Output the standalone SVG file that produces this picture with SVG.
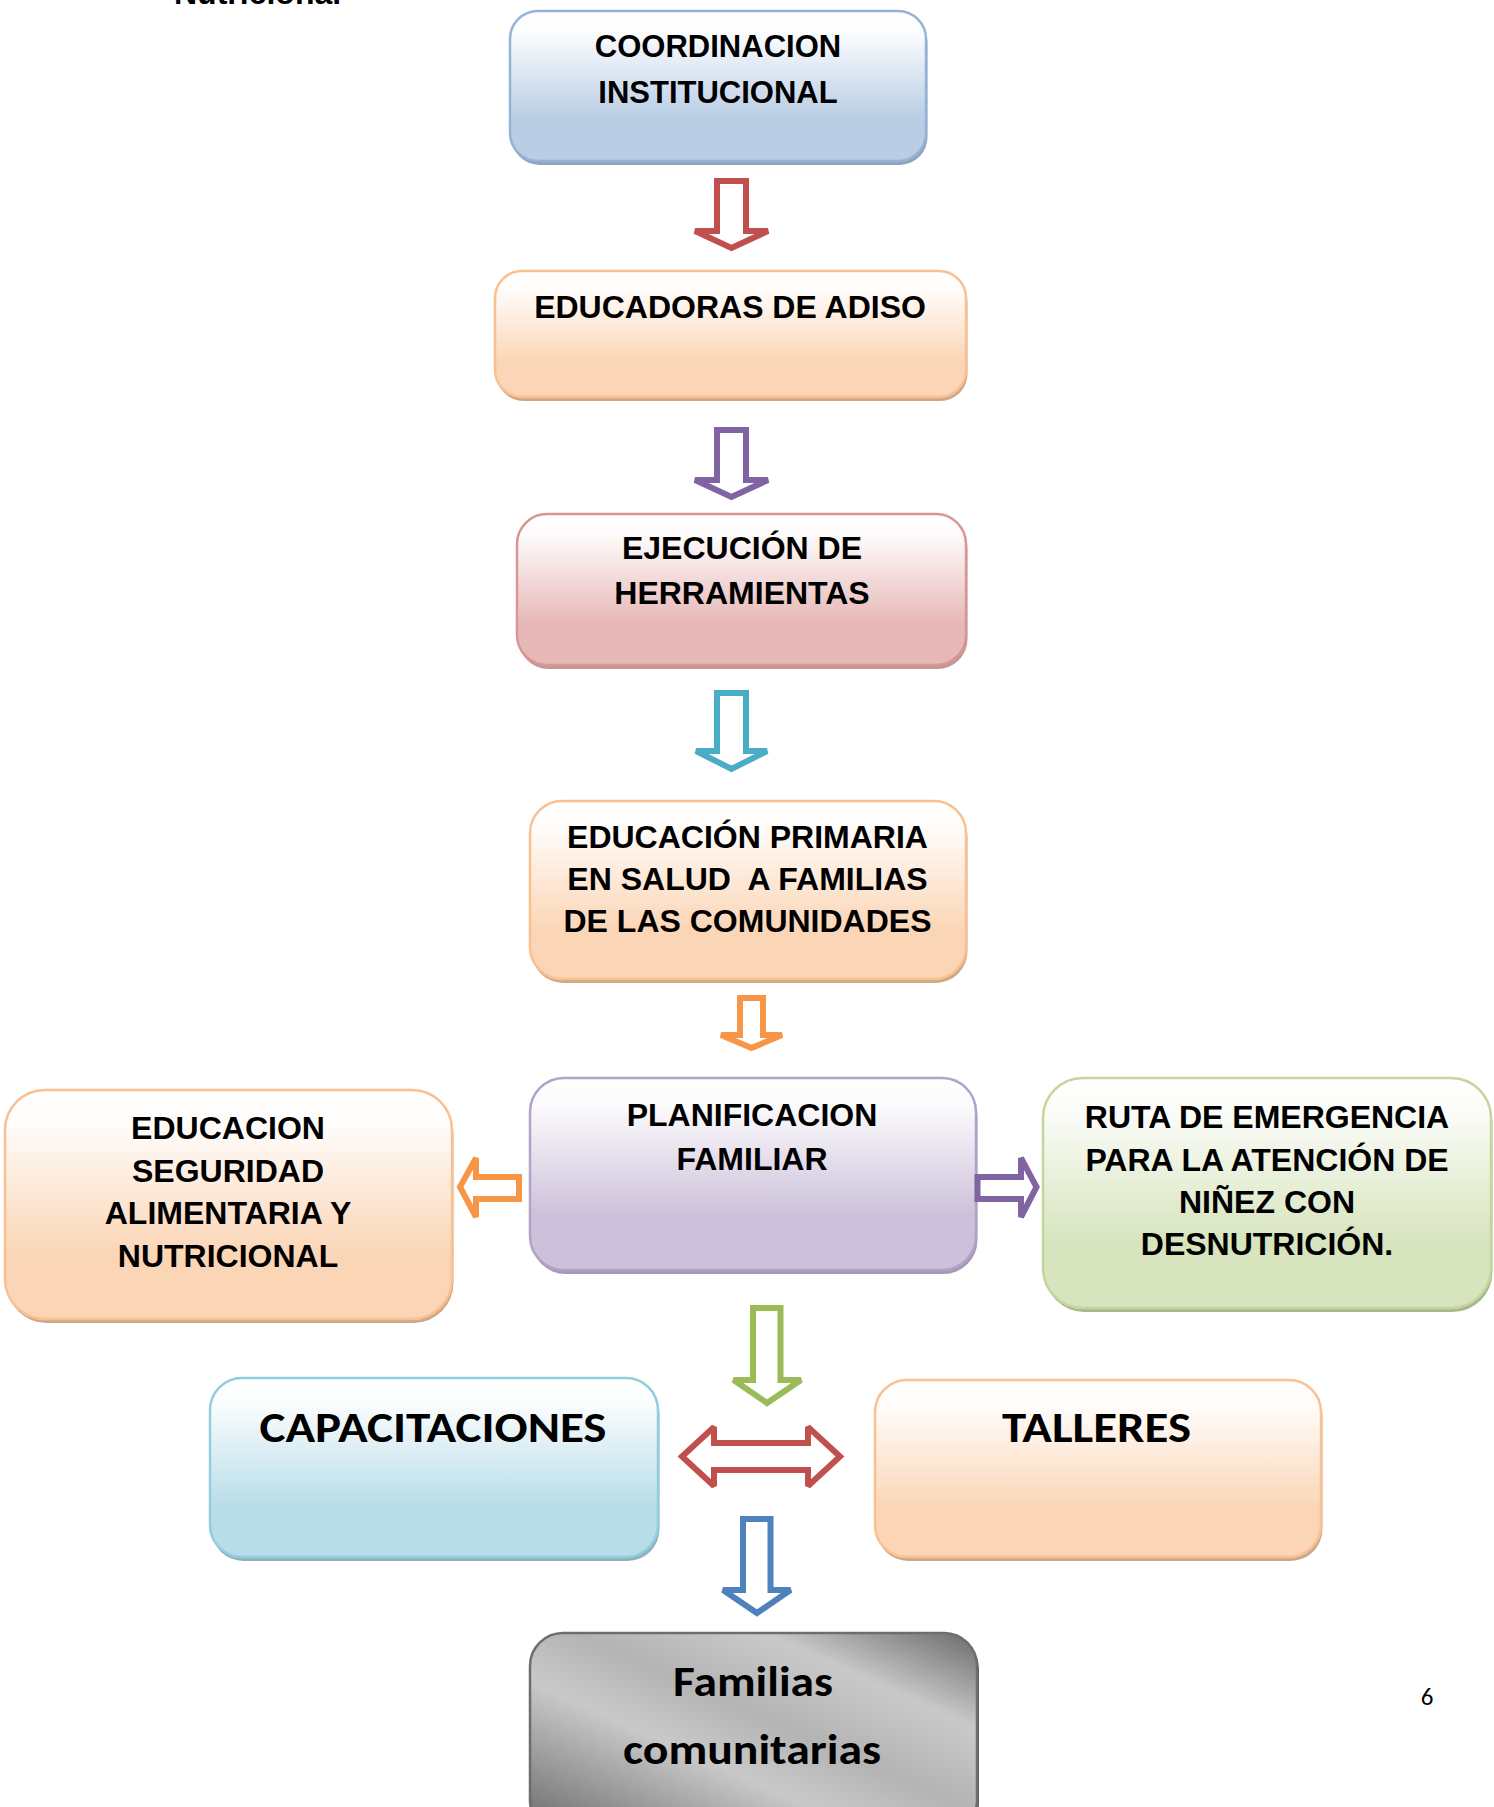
<svg xmlns="http://www.w3.org/2000/svg" width="1494" height="1807" viewBox="0 0 1494 1807">
<defs>
<linearGradient id="gBlue" x1="0" y1="0" x2="0" y2="1"><stop offset="0" stop-color="#ffffff"/><stop offset="0.15" stop-color="#fbfcfe"/><stop offset="0.72" stop-color="#b9cde5"/><stop offset="1" stop-color="#b9cde5"/></linearGradient>
<linearGradient id="gOrange" x1="0" y1="0" x2="0" y2="1"><stop offset="0" stop-color="#ffffff"/><stop offset="0.15" stop-color="#fffcfa"/><stop offset="0.72" stop-color="#fbd6b6"/><stop offset="1" stop-color="#fbd5b5"/></linearGradient>
<linearGradient id="gRed" x1="0" y1="0" x2="0" y2="1"><stop offset="0" stop-color="#ffffff"/><stop offset="0.15" stop-color="#fdfafa"/><stop offset="0.72" stop-color="#e6b9b8"/><stop offset="1" stop-color="#e6b9b8"/></linearGradient>
<linearGradient id="gPurple" x1="0" y1="0" x2="0" y2="1"><stop offset="0" stop-color="#ffffff"/><stop offset="0.15" stop-color="#fbfafc"/><stop offset="0.72" stop-color="#ccc0da"/><stop offset="1" stop-color="#ccc0da"/></linearGradient>
<linearGradient id="gGreen" x1="0" y1="0" x2="0" y2="1"><stop offset="0" stop-color="#ffffff"/><stop offset="0.15" stop-color="#fbfcf8"/><stop offset="0.72" stop-color="#d7e4bd"/><stop offset="1" stop-color="#d7e4bd"/></linearGradient>
<linearGradient id="gCyan" x1="0" y1="0" x2="0" y2="1"><stop offset="0" stop-color="#ffffff"/><stop offset="0.15" stop-color="#fafcfd"/><stop offset="0.72" stop-color="#b7dde8"/><stop offset="1" stop-color="#b7dde8"/></linearGradient>
<linearGradient id="gGray" x1="1" y1="0" x2="0" y2="1"><stop offset="0" stop-color="#6a6a6a"/><stop offset="0.24" stop-color="#c9c9c9"/><stop offset="0.45" stop-color="#b4b4b4"/><stop offset="0.62" stop-color="#c9c9c9"/><stop offset="1" stop-color="#696969"/></linearGradient>
<style>
.t{font-family:"Liberation Sans",Arial,sans-serif;font-weight:bold;font-size:32px;text-anchor:middle;fill:#000}
.c{font-family:Carlito,Lato,"Open Sans",sans-serif;font-weight:bold;font-size:43px;text-anchor:middle;fill:#000}
.box{stroke-width:2.5}
.arr{fill:#ffffff;stroke-width:6;stroke-linejoin:miter;stroke-miterlimit:2}
</style>
</defs>
<rect width="1494" height="1807" fill="#ffffff"/>
<text class="t" x="174" y="4" style="text-anchor:start">Nutricional</text>

<g id="coordinacion">
<rect x="511.5" y="15" width="416" height="150" rx="28" fill="#8fa3be"/>
<rect class="box" x="510" y="11" width="416" height="150" rx="28" fill="url(#gBlue)" stroke="#95b3d7"/>
<text class="t" x="718" y="57" style="font-size:31px">COORDINACION</text>
<text class="t" x="718" y="103" style="font-size:31px">INSTITUCIONAL</text>
</g>

<g id="educadoras">
<rect x="496.5" y="275" width="471" height="126" rx="27" fill="#cda889"/>
<rect class="box" x="495" y="271" width="471" height="126" rx="27" fill="url(#gOrange)" stroke="#fac090"/>
<text class="t" x="730" y="318">EDUCADORAS DE ADISO</text>
</g>

<g id="ejecucion">
<rect x="518.5" y="518" width="449" height="151" rx="30" fill="#c49695"/>
<rect class="box" x="517" y="514" width="449" height="151" rx="30" fill="url(#gRed)" stroke="#d99694"/>
<text class="t" x="742" y="559">EJECUCIÓN DE</text>
<text class="t" x="742" y="604">HERRAMIENTAS</text>
</g>

<g id="educacion-primaria">
<rect x="531.5" y="805" width="436" height="178" rx="32" fill="#cda889"/>
<rect class="box" x="530" y="801" width="436" height="178" rx="32" fill="url(#gOrange)" stroke="#fac090"/>
<text class="t" x="747.5" y="848">EDUCACIÓN PRIMARIA</text>
<text class="t" x="747.5" y="890">EN SALUD&#160; A FAMILIAS</text>
<text class="t" x="747.5" y="932">DE LAS COMUNIDADES</text>
</g>

<g id="educacion-seguridad">
<rect x="6.5" y="1094" width="447" height="229" rx="40" fill="#cda889"/>
<rect class="box" x="5" y="1090" width="447" height="229" rx="40" fill="url(#gOrange)" stroke="#fac090"/>
<text class="t" x="228" y="1139">EDUCACION</text>
<text class="t" x="228" y="1182">SEGURIDAD</text>
<text class="t" x="228" y="1224">ALIMENTARIA Y</text>
<text class="t" x="228" y="1267">NUTRICIONAL</text>
</g>

<g id="planificacion">
<rect x="531.5" y="1082" width="446" height="192" rx="34" fill="#a699b2"/>
<rect class="box" x="530" y="1078" width="446" height="192" rx="34" fill="url(#gPurple)" stroke="#b3a2c7"/>
<text class="t" x="752" y="1126">PLANIFICACION</text>
<text class="t" x="752" y="1170">FAMILIAR</text>
</g>

<g id="ruta">
<rect x="1044.5" y="1082" width="448" height="230" rx="40" fill="#a9b690"/>
<rect class="box" x="1043" y="1078" width="448" height="230" rx="40" fill="url(#gGreen)" stroke="#c3d69b"/>
<text class="t" x="1267" y="1128">RUTA DE EMERGENCIA</text>
<text class="t" x="1267" y="1170.5">PARA LA ATENCIÓN DE</text>
<text class="t" x="1267" y="1213">NIÑEZ CON</text>
<text class="t" x="1267" y="1255">DESNUTRICIÓN.</text>
</g>

<g id="capacitaciones">
<rect x="211.5" y="1382" width="448" height="179" rx="32" fill="#8fb2bc"/>
<rect class="box" x="210" y="1378" width="448" height="179" rx="32" fill="url(#gCyan)" stroke="#93cddd"/>
<text class="c" x="433" y="1442" textLength="347" lengthAdjust="spacingAndGlyphs">CAPACITACIONES</text>
</g>

<g id="talleres">
<rect x="876.5" y="1384" width="446" height="177" rx="32" fill="#cda889"/>
<rect class="box" x="875" y="1380" width="446" height="177" rx="32" fill="url(#gOrange)" stroke="#fac090"/>
<text class="c" x="1096.5" y="1442" textLength="189" lengthAdjust="spacingAndGlyphs">TALLERES</text>
</g>

<g id="familias">
<rect x="532" y="1636" width="447" height="200" rx="33" fill="#5e5e5e"/>
<rect class="box" x="530" y="1633" width="447" height="200" rx="33" fill="url(#gGray)" stroke="#6d6d6d"/>
<text class="c" x="753" y="1696" textLength="160" lengthAdjust="spacingAndGlyphs">Familias</text>
<text class="c" x="752" y="1764" textLength="258" lengthAdjust="spacingAndGlyphs">comunitarias</text>
</g>

<g id="connectors">
<path class="arr" stroke="#c0504d" d="M717,181 L746,181 L746,231 L768,231 L731.5,248 L695,231 L717,231 Z"/>
<path class="arr" stroke="#8064a2" d="M717,430 L746,430 L746,480 L768,480 L731.5,497 L695,480 L717,480 Z"/>
<path class="arr" stroke="#4bacc6" d="M717,693 L746,693 L746,751 L767,751 L731.5,769 L696,751 L717,751 Z"/>
<path class="arr" stroke="#f79646" d="M740,998 L763,998 L763,1035 L782,1035 L751.5,1048 L721,1035 L740,1035 Z"/>
<path class="arr" stroke="#f79646" d="M460,1187 L476,1158 L476,1177 L519,1177 L519,1199 L476,1199 L476,1217 Z"/>
<path class="arr" stroke="#8064a2" d="M977.5,1177 L1021,1177 L1021,1158 L1036.5,1187 L1021,1217 L1021,1199 L977.5,1199 Z"/>
<path class="arr" stroke="#9bbb59" d="M753,1308 L780.5,1308 L780.5,1380 L801,1380 L767,1403 L733.5,1380 L753,1380 Z"/>
<path class="arr" stroke="#c0504d" d="M682,1456.5 L714,1427 L714,1443 L808,1443 L808,1427 L840,1456.5 L808,1486 L808,1470 L714,1470 L714,1486 Z"/>
<path class="arr" stroke="#4f81bd" d="M743,1519 L770.5,1519 L770.5,1590 L790.5,1590 L757,1613 L723,1590 L743,1590 Z"/>
</g>

<text x="1427" y="1705" style="font-family:Carlito,Lato,'Open Sans',sans-serif;font-size:25px;text-anchor:middle;fill:#000">6</text>
</svg>
